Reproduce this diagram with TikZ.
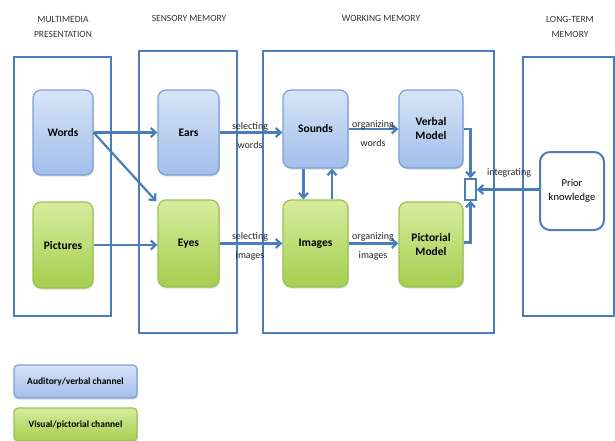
\documentclass[tikz,border=0pt]{standalone}
\usepackage{fontspec}
\setmainfont{Carlito}
\usepackage{tikz}
\usetikzlibrary{arrows.meta,positioning,shadows}

\definecolor{panelblue}{RGB}{74,126,187}
\definecolor{audtop}{RGB}{214,228,247}
\definecolor{audbot}{RGB}{162,190,234}
\definecolor{audline}{RGB}{122,159,214}
\definecolor{vistop}{RGB}{214,236,158}
\definecolor{visbot}{RGB}{166,206,79}
\definecolor{visline}{RGB}{156,192,82}

\begin{document}
\begin{tikzpicture}[
    x=1pt, y=-1pt,
    panel/.style={draw=panelblue, line width=2.2pt},
    title/.style={font=\fontsize{9.5}{11}\selectfont, align=center, text=black!80},
    audbox/.style={rectangle, rounded corners=8pt, draw=audline, line width=1.2pt,
        top color=audtop, bottom color=audbot, align=center, font=\fontsize{11.5}{14}\selectfont\bfseries,
        drop shadow={opacity=0.25, shadow xshift=1pt, shadow yshift=-1.5pt}},
    visbox/.style={audbox, draw=visline, top color=vistop, bottom color=visbot},
    priorbox/.style={rectangle, rounded corners=10pt, draw=panelblue, line width=2pt, fill=white,
        align=center, font=\fontsize{10.5}{14}\selectfont},
    flow/.style={draw=panelblue, line width=2.2pt, -{Straight Barb[length=5pt,width=9pt]}},
    lbl/.style={align=center, font=\fontsize{10}{19}\selectfont, text=black!85, inner sep=0pt}
]
    \useasboundingbox (0,0) rectangle (615,440);

    % panels
    \draw[panel] (14,57) rectangle (111,316);
    \draw[panel] (139,51) rectangle (237,333);
    \draw[panel] (263,51) rectangle (494,333);
    \draw[panel] (523,57) rectangle (614,316);

    \node[title] (tmulti) at (63,27) {MULTIMEDIA\\[4pt]PRESENTATION};
    \node[title] (tsens) at (189,18) {SENSORY MEMORY};
    \node[title] (twork) at (381,18) {WORKING MEMORY};
    \node[title] (tlong) at (570,27) {LONG-TERM\\[4pt]MEMORY};

    % boxes
    \node[audbox, minimum width=60pt, minimum height=85pt] (words) at (63,132.5) {Words};
    \node[visbox, minimum width=60pt, minimum height=86pt] (pictures) at (63,245) {Pictures};
    \node[audbox, minimum width=61pt, minimum height=85pt] (ears) at (188.5,132.5) {Ears};
    \node[visbox, minimum width=61pt, minimum height=87pt] (eyes) at (188.5,243.5) {Eyes};
    \node[audbox, minimum width=65pt, minimum height=78pt] (sounds) at (315.5,129) {Sounds};
    \node[visbox, minimum width=65pt, minimum height=87pt] (images) at (315.5,243.5) {Images};
    \node[audbox, minimum width=64pt, minimum height=78pt] (verbal) at (431,129) {Verbal\\Model};
    \node[visbox, minimum width=64pt, minimum height=85pt] (pictorial) at (431,244.5) {Pictorial\\Model};
    \node[priorbox, minimum width=64pt, minimum height=78pt] (prior) at (572,191) {Prior\\knowledge};
    \node[draw=panelblue, line width=1.5pt, fill=white, minimum width=11pt, minimum height=21pt,
        inner sep=0pt] (join) at (470.5,189.5) {};

    % connectors
    \draw[flow] (words.east) -- (ears.west);
    \draw[flow] (words.east) -- ([shift={(-1,2)}]eyes.north west);
    \draw[flow] (pictures.east) -- (pictures.east -| eyes.west);
    \draw[flow] (ears.east) -- (ears.east -| sounds.west);
    \draw[flow] (eyes.east) -- (eyes.east -| images.west);
    \draw[flow] ([xshift=-12pt]sounds.south) -- ([xshift=-12pt]images.north);
    \draw[flow] ([xshift=16.5pt]images.north) -- ([xshift=16.5pt]sounds.south);
    \draw[flow] (sounds.east) -- (verbal.west);
    \draw[flow] (images.east) -- (images.east -| pictorial.west);
    \draw[flow] (verbal.east) -| (join.north);
    \draw[flow] ([yshift=2pt]pictorial.east) -| (join.south);
    \draw[flow] (prior.west |- join.east) -- (join.east);

    \node[lbl] (selw) at (250,136) {selecting\\words};
    \node[lbl] (seli) at (250,246) {selecting\\images};
    \node[lbl] (orgw) at (373,134) {organizing\\words};
    \node[lbl] (orgi) at (373,246) {organizing\\images};
    \node[lbl] (integ) at (509,173) {integrating};

    % legend
    \node[audbox, rounded corners=4pt, minimum width=123pt, minimum height=33pt,
        font=\fontsize{9.5}{11}\selectfont\bfseries] (legaud) at (75.5,381.5) {Auditory/verbal channel};
    \node[visbox, rounded corners=4pt, minimum width=123pt, minimum height=33pt,
        font=\fontsize{9.5}{11}\selectfont\bfseries] (legvis) at (75.5,424.5) {Visual/pictorial channel};
\end{tikzpicture}
\end{document}
